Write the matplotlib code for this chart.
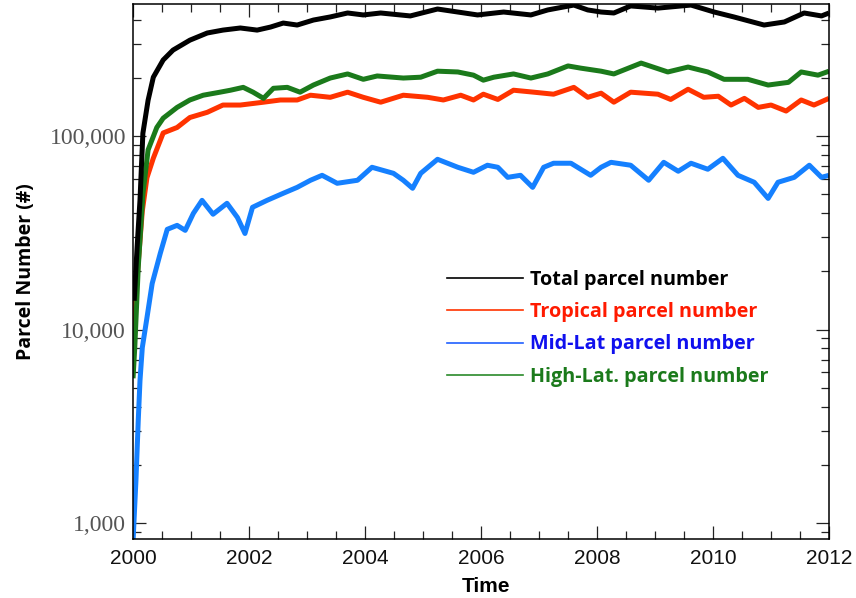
import numpy as np
import matplotlib
matplotlib.use('Agg')
import matplotlib.pyplot as plt
from matplotlib.lines import Line2D
from matplotlib.ticker import FixedLocator, MultipleLocator, FuncFormatter, LogLocator, NullFormatter

# parcel counts (thousands) sampled along each curve
total_years = [2000.02, 2000.07, 2000.12, 2000.17, 2000.26, 2000.35, 2000.52, 2000.69, 2000.98,
               2001.28, 2001.55, 2001.85, 2002.14, 2002.37, 2002.59, 2002.83, 2003.11, 2003.40,
               2003.70, 2003.97, 2004.27, 2004.78, 2005.25, 2005.60, 2005.94, 2006.39, 2006.86,
               2007.15, 2007.60, 2007.84, 2008.07, 2008.29, 2008.58, 2009.05, 2009.62, 2010.02,
               2010.36, 2010.88, 2011.23, 2011.57, 2011.87, 2012.0]
total_k = [14.1, 26.6, 46.6, 103.6, 153.6, 202, 248, 279, 314,
           342, 354, 363, 354, 367, 385, 376, 399, 414,
           434, 424, 434, 419, 455, 439, 424, 439, 424,
           450, 477, 450, 439, 434, 472, 460, 477, 439,
           414, 376, 390, 434, 419, 434]

tropical_years = [2000.0, 2000.03, 2000.16, 2000.24, 2000.35, 2000.52, 2000.76, 2000.98, 2001.28,
                  2001.55, 2001.85, 2002.25, 2002.54, 2002.83, 2003.06, 2003.40, 2003.70, 2003.97,
                  2004.27, 2004.66, 2005.08, 2005.35, 2005.65, 2005.87, 2006.04, 2006.29, 2006.56,
                  2006.91, 2007.25, 2007.60, 2007.84, 2008.07, 2008.29, 2008.58, 2009.05, 2009.27,
                  2009.57, 2009.84, 2010.09, 2010.31, 2010.54, 2010.78, 2011.00, 2011.26, 2011.52,
                  2011.74, 2012.0]
tropical_k = [8, 13, 41, 61, 77, 104, 111, 125, 133,
              145, 145, 150, 154, 154, 163, 159, 169, 159,
              150, 163, 159, 154, 163, 154, 165, 155, 173,
              169, 165, 179, 159, 167, 150, 169, 165, 155,
              175, 159, 161, 145, 157, 141, 145, 135, 154,
              145, 157]

midlat_years = [2000.0, 2000.05, 2000.09, 2000.12, 2000.16, 2000.24, 2000.33, 2000.47, 2000.59,
                2000.76, 2000.90, 2001.04, 2001.19, 2001.38, 2001.62, 2001.80, 2001.93, 2002.06,
                2002.31, 2002.59, 2002.83, 2003.06, 2003.26, 2003.52, 2003.87, 2004.12, 2004.49,
                2004.66, 2004.82, 2004.96, 2005.25, 2005.60, 2005.87, 2006.11, 2006.29, 2006.46,
                2006.68, 2006.89, 2007.08, 2007.25, 2007.55, 2007.89, 2008.07, 2008.24, 2008.58,
                2008.89, 2009.15, 2009.40, 2009.62, 2009.91, 2010.17, 2010.43, 2010.71, 2010.95,
                2011.12, 2011.40, 2011.66, 2011.87, 2012.0]
midlat_k = [0.80, 1.65, 3.38, 5.44, 8.07, 11.5, 17.3, 24.8, 33.0,
            34.6, 32.6, 39.9, 46.6, 39.5, 45.0, 38.0, 31.4, 42.9,
            46.6, 50.7, 54.4, 59.2, 62.8, 57.1, 59.2, 69.1, 64.3,
            59.2, 53.8, 64.3, 76.0, 69.1, 65.1, 70.8, 69.1, 61.3,
            62.8, 54.4, 69.1, 72.5, 72.5, 62.8, 69.1, 73.3, 70.8,
            59.2, 73.3, 65.9, 72.5, 67.5, 76.9, 62.8, 57.8, 47.7,
            57.8, 61.3, 70.8, 61.3, 62.8]

highlat_years = [2000.0, 2000.03, 2000.09, 2000.17, 2000.26, 2000.41, 2000.52, 2000.76, 2000.98,
                 2001.21, 2001.50, 2001.68, 2001.90, 2002.07, 2002.25, 2002.42, 2002.66, 2002.88,
                 2003.11, 2003.40, 2003.70, 2003.97, 2004.21, 2004.66, 2004.96, 2005.25, 2005.60,
                 2005.87, 2006.04, 2006.22, 2006.56, 2006.86, 2007.15, 2007.50, 2007.72, 2008.07,
                 2008.29, 2008.76, 2009.22, 2009.57, 2009.91, 2010.19, 2010.60, 2010.95, 2011.30,
                 2011.52, 2011.81, 2012.0]
highlat_k = [5.6, 8.07, 21, 50, 85, 111, 124, 141, 154,
             163, 169, 173, 179, 169, 157, 177, 179, 169,
             184, 200, 210, 197, 205, 200, 202, 217, 215,
             207, 195, 202, 210, 200, 210, 231, 225, 217,
             210, 239, 215, 228, 215, 197, 197, 184, 190,
             215, 207, 217]

labels = ['Total parcel number', 'Tropical parcel number',
          'Mid-Lat parcel number', 'High-Lat. parcel number']

fig = plt.figure(figsize=(8.56, 5.98), dpi=100)
ax = fig.add_axes([0.1554, 0.0987, 0.8131, 0.8946])

lw = 3.6
ax.plot(midlat_years, np.array(midlat_k) * 1000, color='#1580ff', lw=lw, solid_capstyle='butt')
ax.plot(tropical_years, np.array(tropical_k) * 1000, color='#ff3300', lw=lw, solid_capstyle='butt')
ax.plot(highlat_years, np.array(highlat_k) * 1000, color='#1b7a1b', lw=lw, solid_capstyle='butt')
ax.plot(total_years, np.array(total_k) * 1000, color='black', lw=lw, solid_capstyle='butt')

ax.set_yscale('log')
ax.set_xlim(2000, 2012)
ax.set_ylim(826, 483000)

ax.xaxis.set_major_locator(MultipleLocator(2))
ax.xaxis.set_minor_locator(MultipleLocator(0.5))
ax.xaxis.set_major_formatter(FuncFormatter(lambda v, p: '%d' % v))
ax.yaxis.set_major_locator(FixedLocator([1e3, 1e4, 1e5]))
ax.yaxis.set_minor_locator(LogLocator(base=10, subs=np.arange(2, 10)))
ax.yaxis.set_major_formatter(FuncFormatter(lambda v, p: '{:,.0f}'.format(v)))
ax.yaxis.set_minor_formatter(NullFormatter())

ax.tick_params(which='both', direction='in', top=True, right=True, width=0.9, color='#222222')
ax.tick_params(which='major', length=9.5)
ax.tick_params(which='minor', length=5.5)
ax.tick_params(axis='x', which='major', labelsize=15, pad=7, labelcolor='#111111')
ax.tick_params(axis='y', which='major', labelsize=17, pad=5, labelcolor='#555555')
for t in ax.get_xticklabels():
    t.set_fontfamily('Liberation Sans')
for t in ax.get_yticklabels():
    t.set_fontfamily('Liberation Serif')
for s in ax.spines.values():
    s.set_linewidth(1.1)

ax.set_xlabel('Time', fontfamily='Liberation Sans', fontweight='bold', fontsize=15)
ax.xaxis.set_label_coords(0.507, -0.072)
ax.set_ylabel('Parcel Number (#)', fontfamily='Open Sans', fontweight='bold', fontsize=14, labelpad=10)

handles = [Line2D([], [], color='black', lw=1.2),
           Line2D([], [], color='#ff3300', lw=1.2),
           Line2D([], [], color='#2060ff', lw=1.2),
           Line2D([], [], color='#2a8a2a', lw=1.2)]
leg = ax.legend(handles, labels, loc='upper left', bbox_to_anchor=(447 / 856, 1 - 270 / 598),
                bbox_transform=fig.transFigure, frameon=False, borderpad=0, borderaxespad=0,
                handlelength=3.85, handletextpad=0.34, labelspacing=0.62,
                prop={'family': 'Open Sans', 'weight': 'bold', 'size': 14.2})
for txt, c in zip(leg.get_texts(), ['black', '#ff1a00', '#1010ee', '#1b7a1b']):
    txt.set_color(c)

fig.savefig('out.png', dpi=100)
